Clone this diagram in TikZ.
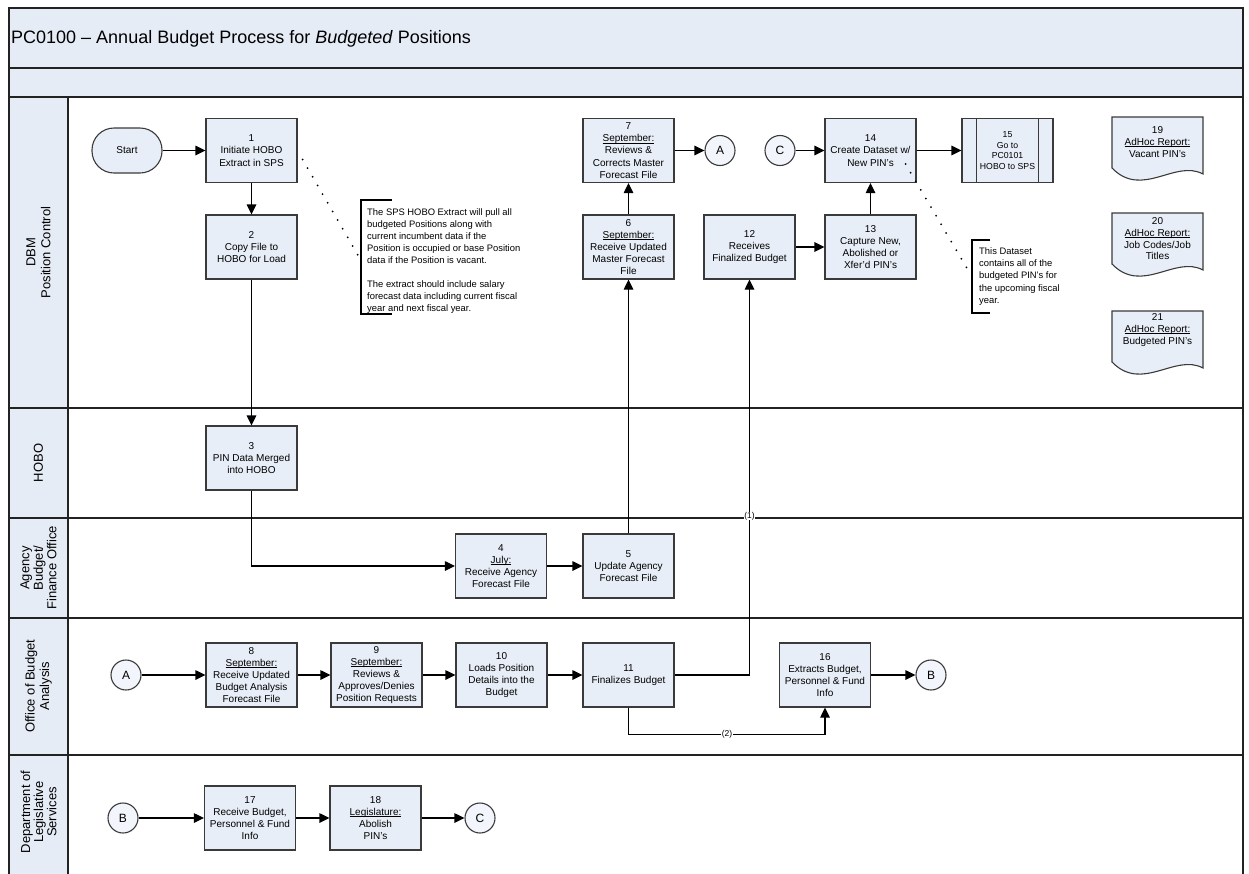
\documentclass[tikz,border=0pt]{standalone}
\usepackage{fontspec}
\setmainfont{Liberation Sans}
\usetikzlibrary{arrows.meta,calc}
\definecolor{boxfill}{HTML}{E8EEF7}
\definecolor{hdrfill}{HTML}{E6ECF6}
\definecolor{circfill}{HTML}{F2F5FB}
\definecolor{edge}{HTML}{3A3A3A}
\definecolor{frameline}{HTML}{222222}
\newcommand\myul[1]{\setbox0\hbox{#1}\rlap{\rule[-1.5pt]{\wd0}{0.6pt}}\box0}
\begin{document}
\begin{tikzpicture}[x=1pt,y=-1pt,
  proc/.style={draw=edge, line width=1.1pt, fill=boxfill, minimum width=91pt, minimum height=64pt,
    inner sep=1pt, align=center, font=\fontsize{10}{12.2}\selectfont},
  conn/.style={draw=black, line width=1.1pt},
  arr/.style={conn, -{Triangle[length=10pt,width=9.5pt]}},
  offpage/.style={circle, draw=edge, line width=1.1pt, fill=circfill, minimum size=30pt, inner sep=0pt,
    font=\fontsize{12}{14}\selectfont},
  lanelabel/.style={rotate=90, align=center, font=\fontsize{13}{15}\selectfont},
  frame/.style={draw=frameline, line width=1.6pt},
  dotline/.style={draw=black, line width=2pt, line cap=round, dash pattern=on 0pt off 10pt},
  bracket/.style={draw=black, line width=1.4pt},
  note/.style={anchor=west, align=left, inner sep=0pt, font=\fontsize{9.4}{12.1}\selectfont},
  doctext/.style={align=center, inner sep=0pt, font=\fontsize{10}{11.7}\selectfont},
  lbl/.style={fill=white, inner sep=0.5pt, font=\fontsize{8.5}{10}\selectfont}
]
\useasboundingbox (0,0) rectangle (1249,873);
% ---- bands and lanes ----
\fill[hdrfill] (9,8) rectangle (1243,97);
\fill[hdrfill] (9,97) rectangle (68,885);
\node[anchor=west, inner sep=0pt, font=\fontsize{18}{22}\selectfont] (title) at (11,38.5)
  {PC0100 – Annual Budget Process for \textit{Budgeted} Positions};
\draw[frame] (9,68) -- (1243,68);
\draw[frame] (9,97) -- (1243,97);
\draw[frame] (68,97) -- (68,885);
\draw[frame] (9,408) -- (1243,408);
\draw[frame] (9,518) -- (1243,518);
\draw[frame] (9,618) -- (1243,618);
\draw[frame] (9,755) -- (1243,755);
\draw[frame] (9,8) rectangle (1243,885);
% lane labels
\node[lanelabel] (L1) at (38.5,252.5) {DBM\\Position Control};
\node[lanelabel] (L2) at (38.5,463) {HOBO};
\node[lanelabel, font=\fontsize{13}{13.5}\selectfont] (L3) at (38.5,568) {Agency\\Budget/\\Finance Office};
\node[lanelabel, font=\fontsize{13}{14.5}\selectfont] (L4) at (38.5,686) {Office of Budget\\Analysis};
\node[lanelabel, font=\fontsize{13}{11}\selectfont] (L5) at (38.5,812) {Department of\\Legislative\\Services};
% ---- nodes ----
\node[draw=edge, line width=1.1pt, fill=boxfill, rounded corners=22pt, minimum width=70pt,
  minimum height=45pt, font=\fontsize{10}{12}\selectfont] (start) at (127,150.5) {Start};
\node[proc] (b1) at (251.5,150.5) {1\\Initiate HOBO\\Extract in SPS};
\node[proc] (b2) at (251.5,247) {2\\Copy File to\\HOBO for Load};
\node[proc] (b3) at (251.5,458) {3\\PIN Data Merged\\into HOBO};
\node[proc] (b4) at (501,566) {4\\\myul{July:}\\Receive Agency\\Forecast File};
\node[proc] (b5) at (628.5,566) {5\\Update Agency\\Forecast File};
\node[proc] (b6) at (628.5,247) {6\\\myul{September:}\\Receive Updated\\Master Forecast\\File};
\node[proc] (b7) at (628.5,150.5) {7\\\myul{September:}\\Reviews \&\\Corrects Master\\Forecast File};
\node[proc] (b8) at (251.5,675) {8\\\myul{September:}\\Receive Updated\\Budget Analysis\\Forecast File};
\node[proc] (b9) at (376.5,675) {9\\\myul{September:}\\Reviews \&\\Approves/Denies\\Position Requests};
\node[proc] (b10) at (501.5,675) {10\\Loads Position\\Details into the\\Budget};
\node[proc] (b11) at (628.5,675) {11\\Finalizes Budget};
\node[proc] (b12) at (749.5,247) {12\\Receives\\Finalized Budget};
\node[proc] (b13) at (870.5,247) {13\\Capture New,\\Abolished or\\Xfer'd PIN's};
\node[proc] (b14) at (870.5,150.5) {14\\Create Dataset w/\\New PIN's};
\node[proc, font=\fontsize{8.7}{10.5}\selectfont] (b15) at (1007.5,150.5) {15\\Go to\\PC0101\\HOBO to SPS};
\draw[draw=edge, line width=1.1pt] ([xshift=15pt]b15.north west) -- ([xshift=15pt]b15.south west);
\draw[draw=edge, line width=1.1pt] ([xshift=-15pt]b15.north east) -- ([xshift=-15pt]b15.south east);
\node[proc] (b16) at (825,675) {16\\Extracts Budget,\\Personnel \& Fund\\Info};
\node[proc] (b17) at (250,818) {17\\Receive Budget,\\Personnel \& Fund\\Info};
\node[proc] (b18) at (375.5,818) {18\\\myul{Legislature:}\\Abolish\\PIN's};
% off-page connectors
\node[offpage] (A1) at (720,150.5) {A};
\node[offpage] (C1) at (780,150.5) {C};
\node[offpage] (A2) at (126,675) {A};
\node[offpage] (B1) at (931,675) {B};
\node[offpage] (B2) at (123,818) {B};
\node[offpage] (C2) at (480,818) {C};
% documents
\foreach \yy in {117,213,311}{
  \draw[draw=edge, line width=1.1pt, fill=boxfill] (1112,\yy) -- (1203,\yy) -- (1203,\yy+57)
    .. controls (1175,\yy+42) and (1142,\yy+82) .. (1112,\yy+51) -- cycle;
}
\node[doctext] (d19) at (1157.5,142) {19\\\myul{AdHoc Report:}\\Vacant PIN's};
\node[doctext] (d20) at (1157.5,239) {20\\\myul{AdHoc Report:}\\Job Codes/Job\\Titles};
\node[doctext] (d21) at (1157.5,330) {21\\\myul{AdHoc Report:}\\Budgeted PIN's};
% annotations
\draw[bracket] (392,200) -- (361,200) -- (361,314) -- (392,314);
\node[note] (ann1) at (367,261) {The SPS HOBO Extract will pull all\\budgeted Positions along with\\current incumbent data if the\\Position is occupied or base Position\\data if the Position is vacant.\\[12.1pt]The extract should include salary\\forecast data including current fiscal\\year and next fiscal year.};
\coordinate (ann1tip) at (359,257);
\draw[dotline] ([shift={(5,9)}]b1.east) -- (ann1tip);
\draw[bracket] (990,240) -- (972,240) -- (972,313) -- (990,313);
\node[note] (ann2) at (979,276.5) {This Dataset\\contains all of the\\budgeted PIN's for\\the upcoming fiscal\\year.};
\coordinate (ann2tip) at (968,270);
\draw[dotline] ([shift={(-11,-19)}]b14.south east) -- (ann2tip);
% ---- connectors ----
\draw[arr] (start) -- (b1);
\draw[arr] (b1) -- (b2);
\draw[arr] (b2) -- (b3);
\draw[arr] (b3.south) |- (b4.west);
\draw[arr] (b4) -- (b5);
\draw[arr] (b5) -- (b6);
\draw[arr] (b6) -- (b7);
\draw[arr] (b7) -- (A1);
\draw[arr] (C1) -- (b14);
\draw[arr] (b14) -- (b15);
\draw[arr] (b12) -- (b13);
\draw[arr] (b13) -- (b14);
\draw[arr] (A2) -- (b8);
\draw[arr] (b8) -- (b9);
\draw[arr] (b9) -- (b10);
\draw[arr] (b10) -- (b11);
\draw[arr] (b11.east) -| (b12.south);
\draw[arr] (b11.south) -- ++(0,27) -| (b16.south);
\draw[arr] (b16) -- (B1);
\draw[arr] (B2) -- (b17);
\draw[arr] (b17) -- (b18);
\draw[arr] (b18) -- (C2);
\node[lbl] (l1) at (749.5,516) {(1)};
\node[lbl] (l2) at (727,734) {(2)};
\end{tikzpicture}
\end{document}
